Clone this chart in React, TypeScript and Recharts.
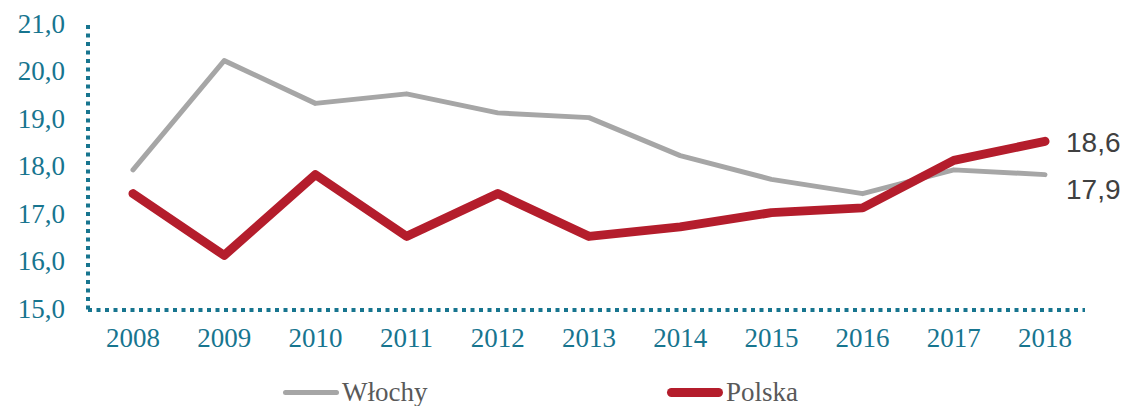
import React from "react";
import { LineChart, Line, XAxis, YAxis, LabelList } from "recharts";

const years = ["2008", "2009", "2010", "2011", "2012", "2013", "2014", "2015", "2016", "2017", "2018"];
const wlochy = [17.95, 20.25, 19.35, 19.55, 19.15, 19.05, 18.25, 17.75, 17.45, 17.95, 17.85];
const polska = [17.45, 16.15, 17.85, 16.55, 17.45, 16.55, 16.75, 17.05, 17.15, 18.15, 18.55];
const yTicks = [15, 16, 17, 18, 19, 20, 21];
const endLabels = { wlochy: "17,9", polska: "18,6" };
const seriesNames = { wlochy: "Włochy", polska: "Polska" };

const data = years.map((y, i) => ({ year: y, wlochy: wlochy[i], polska: polska[i] }));

const TEAL = "#17758f";
const GRAY = "#a6a6a6";
const RED = "#b41d2c";
const SERIF = "'Liberation Serif', 'Times New Roman', serif";

const makeEndLabel = (text: string, dy: number) => (props: any) => {
  const { x, y, index } = props;
  if (index !== years.length - 1) return null;
  return (
    <text
      x={x + 21}
      y={y + dy}
      fill="#404040"
      fontSize={28}
      fontFamily="'Liberation Sans', Arial, sans-serif"
      dominantBaseline="central"
    >
      {text}
    </text>
  );
};

export default function App() {
  return (
    <div style={{ position: "absolute", left: 0, top: 0, width: 1125, height: 406, background: "#fff" }}>
      <LineChart
        width={1125}
        height={406}
        data={data}
        margin={{ top: 25, right: 40, bottom: 46, left: 0 }}
      >
        <XAxis
          dataKey="year"
          height={50}
          padding={{ left: 45, right: 40 }}
          axisLine={{ stroke: TEAL, strokeWidth: 4, strokeDasharray: "4 4.5" }}
          tickLine={false}
          tickMargin={12}
          tick={{ fill: TEAL, fontSize: 27, fontFamily: SERIF }}
          interval={0}
        />
        <YAxis
          width={88}
          domain={[15, 21]}
          ticks={yTicks}
          allowDataOverflow
          axisLine={{ stroke: TEAL, strokeWidth: 4, strokeDasharray: "4 4.5" }}
          tickLine={false}
          tickMargin={17}
          tick={{ fill: TEAL, fontSize: 27, fontFamily: SERIF, dy: -2 }}
          tickFormatter={(v: number) => v.toFixed(1).replace(".", ",")}
        />
        <Line
          dataKey="wlochy"
          stroke={GRAY}
          strokeWidth={5}
          dot={false}
          strokeLinecap="round"
          strokeLinejoin="round"
          isAnimationActive={false}
        >
          <LabelList dataKey="wlochy" content={makeEndLabel(endLabels.wlochy, 15)} />
        </Line>
        <Line
          dataKey="polska"
          stroke={RED}
          strokeWidth={9}
          dot={false}
          strokeLinecap="round"
          strokeLinejoin="round"
          isAnimationActive={false}
        >
          <LabelList dataKey="polska" content={makeEndLabel(endLabels.polska, 1)} />
        </Line>
      </LineChart>
      {[
        { name: seriesNames.wlochy, color: GRAY, h: 5, left: 283 },
        { name: seriesNames.polska, color: RED, h: 9, left: 667 },
      ].map((s) => (
        <div
          key={s.name}
          style={{
            position: "absolute",
            left: s.left,
            top: 374,
            height: 36,
            display: "flex",
            alignItems: "center",
            fontFamily: SERIF,
            fontSize: 27,
            color: "#595959",
          }}
        >
          <span
            style={{
              display: "inline-block",
              width: 56,
              height: s.h,
              borderRadius: s.h / 2,
              background: s.color,
              marginRight: 3,
            }}
          />
          {s.name}
        </div>
      ))}
    </div>
  );
}
